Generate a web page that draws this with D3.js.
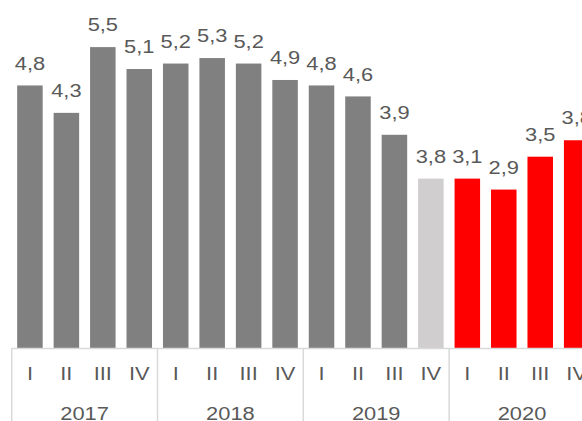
<!DOCTYPE html>
<html>
<head>
<meta charset="utf-8">
<script src="https://cdn.jsdelivr.net/npm/d3@7"></script>
<style>
  body { margin: 0; background: #fff; }
  svg { display: block; }
  text { font-family: Arial, "Liberation Sans", sans-serif; fill: #595959; }
</style>
</head>
<body>
<div class="chart"></div>
<script>
const quarters = ["I", "II", "III", "IV", "I", "II", "III", "IV", "I", "II", "III", "IV", "I", "II", "III", "IV"];
const years = ["2017", "2018", "2019", "2020"];
// bar heights as drawn
const values = [4.8, 4.3, 5.5, 5.1, 5.2, 5.3, 5.2, 4.9, 4.8, 4.6, 3.9, 3.1, 3.1, 2.9, 3.5, 3.8];
// labels as printed
const labels = ["4,8", "4,3", "5,5", "5,1", "5,2", "5,3", "5,2", "4,9", "4,8", "4,6", "3,9", "3,8", "3,1", "2,9", "3,5", "3,8"];
const colors = ["#808080", "#808080", "#808080", "#808080", "#808080", "#808080", "#808080", "#808080",
                "#808080", "#808080", "#808080", "#D0CECE", "#FF0000", "#FF0000", "#FF0000", "#FF0000"];

const width = 582, height = 421;
const left = 11.7, step = 36.45, base = 348.5;
const stretch = 1.15;

const svg = d3.select(".chart").append("svg")
  .attr("width", width)
  .attr("height", height);

const idx = d3.range(values.length);

const xScale = d3.scaleBand()
  .domain(idx)
  .range([left, left + step * idx.length])
  .paddingInner(0.3)
  .paddingOuter(0.15);

const yScale = d3.scaleLinear()
  .domain([0, 6])
  .range([base, base - 6 * 54.8]);

svg.selectAll("rect.bar")
  .data(idx)
  .enter()
  .append("rect")
  .attr("class", "bar")
  .attr("x", i => xScale(i))
  .attr("y", i => yScale(values[i]))
  .attr("width", xScale.bandwidth())
  .attr("height", i => base - yScale(values[i]))
  .attr("fill", i => colors[i]);

svg.selectAll("text.val")
  .data(idx)
  .enter()
  .append("text")
  .attr("class", "val")
  .attr("text-anchor", "middle")
  .attr("font-size", "19px")
  .attr("transform", i => `translate(${xScale(i) + xScale.bandwidth() / 2},${yScale(values[i]) - 15.8}) scale(${stretch},1)`)
  .text(i => labels[i]);

// axis line
svg.append("line")
  .attr("x1", left).attr("x2", width)
  .attr("y1", base).attr("y2", base)
  .attr("stroke", "#d9d9d9").attr("stroke-width", 1.5);

// quarter labels
svg.selectAll("text.q")
  .data(idx)
  .enter()
  .append("text")
  .attr("class", "q")
  .attr("text-anchor", "middle")
  .attr("font-size", "19px")
  .attr("transform", i => `translate(${xScale(i) + xScale.bandwidth() / 2},380) scale(${stretch},1)`)
  .text(i => quarters[i]);

// year groups
const groupX = k => left + k * 4 * step;

svg.selectAll("line.sep")
  .data(d3.range(years.length))
  .enter()
  .append("line")
  .attr("class", "sep")
  .attr("x1", k => groupX(k)).attr("x2", k => groupX(k))
  .attr("y1", base).attr("y2", height)
  .attr("stroke", "#d9d9d9").attr("stroke-width", 1.5);

svg.selectAll("text.yr")
  .data(years)
  .enter()
  .append("text")
  .attr("class", "yr")
  .attr("text-anchor", "middle")
  .attr("font-size", "19px")
  .attr("transform", (d, k) => `translate(${groupX(k) + 2 * step},419.5) scale(${stretch},1)`)
  .text(d => d);
</script>
</body>
</html>
